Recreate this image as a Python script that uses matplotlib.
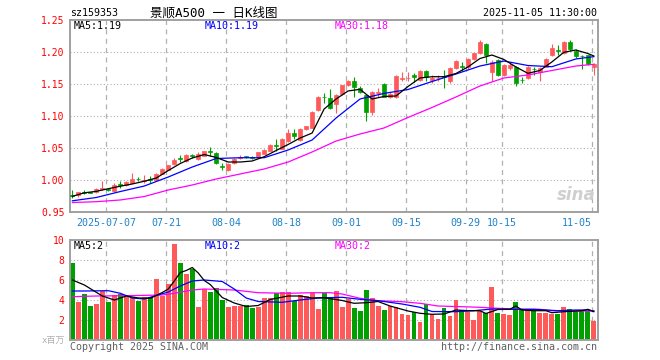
import matplotlib
matplotlib.use('Agg')
import matplotlib.pyplot as plt
import numpy as np

# daily candles, 2025-06-27 .. 2025-11-05 (88 trading days)
opens = [0.976, 0.976, 0.981, 0.981, 0.981, 0.986, 0.986, 0.983, 0.993, 0.992,
         0.996, 1.002, 0.999, 1.001, 1.000, 1.010, 1.016, 1.025, 1.034, 1.029,
         1.039, 1.033, 1.038, 1.045, 1.042, 1.022, 1.016, 1.026, 1.035, 1.037,
         1.036, 1.036, 1.041, 1.046, 1.054, 1.049, 1.061, 1.073, 1.062, 1.079,
         1.082, 1.109, 1.130, 1.128, 1.119, 1.134, 1.148, 1.154, 1.144, 1.133,
         1.107, 1.136, 1.150, 1.130, 1.129, 1.158, 1.159, 1.164, 1.156, 1.170,
         1.156, 1.159, 1.162, 1.154, 1.175, 1.178, 1.176, 1.189, 1.198, 1.212,
         1.168, 1.187, 1.164, 1.175, 1.176, 1.157, 1.159, 1.174, 1.169, 1.177,
         1.195, 1.203, 1.198, 1.216, 1.202, 1.194, 1.195, 1.177]
highs = [0.984, 0.982, 0.984, 0.982, 0.987, 0.999, 0.988, 0.996, 0.999, 0.998,
         1.011, 1.004, 1.008, 1.006, 1.011, 1.018, 1.024, 1.034, 1.039, 1.040,
         1.041, 1.043, 1.046, 1.052, 1.044, 1.027, 1.026, 1.034, 1.039, 1.038,
         1.038, 1.044, 1.048, 1.056, 1.064, 1.065, 1.079, 1.079, 1.082, 1.085,
         1.108, 1.131, 1.136, 1.142, 1.134, 1.149, 1.156, 1.161, 1.147, 1.134,
         1.139, 1.144, 1.152, 1.138, 1.164, 1.168, 1.168, 1.167, 1.172, 1.172,
         1.164, 1.164, 1.172, 1.176, 1.188, 1.184, 1.190, 1.199, 1.219, 1.214,
         1.187, 1.189, 1.182, 1.183, 1.178, 1.161, 1.178, 1.176, 1.177, 1.191,
         1.212, 1.211, 1.217, 1.219, 1.205, 1.195, 1.196, 1.183]
lows = [0.972, 0.974, 0.978, 0.979, 0.980, 0.984, 0.983, 0.982, 0.987, 0.991,
        0.995, 0.999, 0.995, 0.996, 0.999, 1.009, 1.015, 1.024, 1.028, 1.028,
        1.035, 1.032, 1.037, 1.038, 1.025, 1.016, 1.014, 1.025, 1.033, 1.034,
        1.033, 1.035, 1.040, 1.045, 1.046, 1.048, 1.060, 1.064, 1.061, 1.078,
        1.081, 1.108, 1.121, 1.111, 1.105, 1.133, 1.147, 1.130, 1.136, 1.092,
        1.102, 1.130, 1.129, 1.128, 1.128, 1.154, 1.154, 1.153, 1.155, 1.154,
        1.152, 1.154, 1.143, 1.152, 1.174, 1.170, 1.174, 1.188, 1.197, 1.183,
        1.154, 1.162, 1.163, 1.172, 1.147, 1.151, 1.158, 1.164, 1.155, 1.176,
        1.194, 1.195, 1.197, 1.202, 1.191, 1.174, 1.180, 1.164]
closes = [0.975, 0.981, 0.980, 0.980, 0.986, 0.987, 0.985, 0.992, 0.992, 0.997,
          1.002, 1.001, 1.000, 1.000, 1.009, 1.017, 1.023, 1.032, 1.033, 1.039,
          1.038, 1.041, 1.045, 1.044, 1.026, 1.021, 1.025, 1.033, 1.036, 1.036,
          1.035, 1.043, 1.047, 1.055, 1.053, 1.064, 1.073, 1.069, 1.080, 1.084,
          1.107, 1.130, 1.129, 1.112, 1.133, 1.148, 1.154, 1.145, 1.137, 1.107,
          1.138, 1.137, 1.130, 1.135, 1.163, 1.159, 1.160, 1.161, 1.170, 1.161,
          1.160, 1.160, 1.161, 1.175, 1.186, 1.177, 1.189, 1.198, 1.216, 1.195,
          1.185, 1.164, 1.180, 1.180, 1.152, 1.156, 1.176, 1.173, 1.175, 1.189,
          1.206, 1.202, 1.215, 1.204, 1.193, 1.193, 1.182, 1.182]
volumes = [7.73, 3.83, 4.6, 3.4, 3.6, 4.93, 3.83, 4.5, 4.6, 4.27,
           4.17, 3.9, 4.27, 4.27, 6.13, 4.4, 5.6, 9.6, 7.73, 6.6,
           7.07, 3.27, 5.07, 4.8, 5.23, 4.0, 3.27, 3.4, 3.4, 3.47,
           3.17, 3.27, 4.2, 4.2, 4.67, 4.77, 4.8, 3.87, 4.47, 4.4,
           4.67, 3.1, 4.67, 4.23, 4.9, 3.3, 4.07, 3.2, 2.9, 5.0,
           4.2, 3.4, 3.0, 3.4, 3.27, 2.6, 2.5, 2.83, 1.8, 3.6,
           2.6, 2.1, 3.2, 2.4, 4.0, 3.0, 2.83, 2.0, 2.87, 2.67,
           5.3, 2.7, 2.6, 2.5, 3.8, 3.0, 3.0, 2.93, 2.7, 2.7,
           2.6, 2.6, 3.3, 3.1, 2.9, 2.9, 2.9, 1.9]

# moving averages (day index, value)
ma5_idx = list(range(0, 88, 2)) + [87]
ma5 = [0.9745, 0.9800, 0.9823, 0.9864, 0.9903, 0.9938, 0.9981, 1.0031, 1.0148, 1.0258,
       1.0344, 1.0398, 1.0352, 1.0281, 1.0281, 1.0297, 1.0364, 1.0461, 1.0555, 1.0656,
       1.0734, 1.1109, 1.1266, 1.1391, 1.1417, 1.1266, 1.1305, 1.1313, 1.1461, 1.1594,
       1.1614, 1.1614, 1.1664, 1.1766, 1.1898, 1.1953, 1.1883, 1.1766, 1.1667, 1.1711,
       1.1844, 1.1995, 1.2031, 1.1977, 1.1938]
ma_idx = [0, 4, 8, 12, 16, 20, 24, 28, 32, 36, 40, 44, 48, 52, 56, 60, 64, 68, 72, 76, 80, 84, 87]
ma10 = [0.9675, 0.9727, 0.9820, 0.9906, 1.0047, 1.0203, 1.0336, 1.0348, 1.0348, 1.0469,
        1.0625, 1.0969, 1.1266, 1.1353, 1.1414, 1.1539, 1.1656, 1.1781, 1.1859, 1.1789,
        1.1770, 1.1891, 1.1927]
ma30 = [0.9648, 0.9661, 0.9688, 0.9742, 0.9844, 0.9922, 1.0016, 1.0094, 1.0172, 1.0281,
        1.0438, 1.0609, 1.0719, 1.0813, 1.0977, 1.1133, 1.1297, 1.1469, 1.1594, 1.1641,
        1.1711, 1.1781, 1.1808]

vma5_idx = [0, 2, 5, 7, 9, 11, 13, 15, 16, 17, 18, 19, 20, 21, 22, 23, 25, 27, 29, 31,
            33, 36, 38, 40, 42, 45, 47, 49, 51, 53, 56, 58, 60, 62, 64, 66, 68, 69, 71, 73,
            74, 75, 77, 79, 80, 82, 85, 86, 87]
vma5 = [6.0, 5.5, 4.4, 4.0, 4.4, 4.2, 4.17, 4.75, 5.1, 5.9, 6.75, 6.95, 7.25, 6.7, 5.95,
        5.55, 4.25, 3.7, 3.35, 3.45, 4.05, 4.4, 4.4, 4.2, 4.23, 3.95, 3.67, 3.73, 3.85, 3.4,
        2.9, 2.67, 2.57, 2.6, 3.0, 2.93, 2.93, 2.65, 3.05, 3.07, 3.4, 3.0, 2.93, 2.93, 2.73,
        2.83, 2.93, 3.07, 2.83]
vma10_idx = [0, 2, 6, 8, 10, 12, 14, 16, 18, 20, 22, 25, 27, 29, 31, 35, 38, 41, 45, 48,
             51, 55, 58, 60, 64, 67, 70, 74, 77, 79, 81, 84, 86, 87]
vma10 = [4.9, 4.9, 4.93, 4.67, 4.2, 4.1, 4.45, 4.8, 5.4, 5.9, 6.0, 5.85, 5.1, 4.2, 3.85,
         3.77, 4.0, 4.2, 4.27, 4.07, 3.93, 3.6, 3.27, 2.85, 2.83, 2.93, 3.1, 3.07, 3.07, 3.0,
         2.93, 3.0, 3.0, 2.9]
vma30_idx = [0, 4, 9, 15, 17, 20, 22, 27, 31, 36, 40, 43, 45, 48, 51, 55, 58, 61, 65, 68,
             71, 75, 78, 80, 84, 87]
vma30 = [4.33, 4.4, 4.43, 4.5, 4.67, 5.0, 5.1, 5.0, 4.73, 4.67, 4.73, 4.73, 4.6, 4.17, 3.93,
         3.83, 3.67, 3.4, 3.33, 3.27, 3.17, 3.07, 3.07, 2.93, 2.9, 2.9]

tick_idx = [6, 16, 26, 36, 46, 56, 66, 72, 87]
tick_labels = ['2025-07-07', '07-21', '08-04', '08-18', '09-01', '09-15', '09-29', '10-15', '11-05']

RED = '#ff5a5a'
GREEN = '#00a000'
GRID = '#b0b0b0'
MONO = 'DejaVu Sans Mono'

o = np.array(opens); h = np.array(highs); l = np.array(lows); c = np.array(closes)
x = np.arange(len(c))
cols = np.where(c >= o, RED, GREEN)

W, H = 660, 360
fig = plt.figure(figsize=(6.6, 3.6), dpi=100)
ax = fig.add_axes([70 / W, (H - 212) / H, 528 / W, 192 / H])
axv = fig.add_axes([70 / W, (H - 340) / H, 528 / W, 100 / H])

for a in (ax, axv):
    a.set_xlim(-0.4, 87.7)
    for s in a.spines.values():
        s.set_color('#a0a0a0')
        s.set_linewidth(1.4)
    a.tick_params(length=0, labelsize=7, labelcolor='red', pad=4)
    for t in tick_idx:
        a.axvline(t - 0.35, color=GRID, lw=0.9, ls=(0, (4, 3.5)), zorder=0)

# price panel
ax.set_ylim(0.95, 1.25)
yt = [0.95, 1.00, 1.05, 1.10, 1.15, 1.20, 1.25]
ax.set_yticks(yt)
ax.set_yticklabels(['%.2f' % v for v in yt], family=MONO)
for v in yt[1:-1]:
    ax.axhline(v, color=GRID, lw=0.8, ls=(0, (1, 2)), zorder=0)
ax.vlines(x, l, h, colors=cols, lw=0.8, zorder=2)
ax.bar(x, np.abs(c - o), bottom=np.minimum(o, c), width=0.7, color=cols,
       edgecolor=cols, linewidth=0.5, zorder=3)
ax.plot(ma_idx, ma30, color='#ff00ff', lw=0.9, zorder=4)
ax.plot(ma_idx, ma10, color='#0000ff', lw=0.9, zorder=4)
ax.plot(ma5_idx, ma5, color='black', lw=0.9, zorder=4)
ax.set_xticks([t - 0.35 for t in tick_idx])
ax.set_xticklabels(tick_labels, family=MONO, fontsize=7.2, color='#1e82c8')
ax.tick_params(axis='x', labelcolor='#1e82c8', pad=4)
ax.get_xticklabels()[-1].set_horizontalalignment('right')
ax.text(0.995, 0.04, 'sina', transform=ax.transAxes, ha='right', va='bottom',
        fontsize=12, fontweight='bold', style='italic', color='#cfcfcf', zorder=1)

# volume panel
axv.set_ylim(0, 10)
axv.set_yticks([2, 4, 6, 8, 10])
axv.set_yticklabels(['2', '4', '6', '8', '10'], family=MONO)
for v in [2, 4, 6, 8]:
    axv.axhline(v, color=GRID, lw=0.8, ls=(0, (1, 2)), zorder=0)
axv.set_xticks([])
axv.bar(x, volumes, width=0.82, color=cols, zorder=2)
axv.plot(vma30_idx, vma30, color='#ff00ff', lw=0.9, zorder=4)
axv.plot(vma10_idx, vma10, color='#0000ff', lw=0.9, zorder=4)
axv.plot(vma5_idx, vma5, color='black', lw=0.9, zorder=4)


def px(xp, yp, s, **kw):
    kw.setdefault('family', MONO)
    kw.setdefault('fontsize', 7.2)
    kw.setdefault('va', 'center')
    fig.text(xp / W, 1 - yp / H, s, **kw)


px(70, 13, 'sz159353')
px(150, 13, '景顺A500 一 日K线图', family=[MONO, 'Noto Sans CJK SC'], fontsize=9)
px(597, 13, '2025-11-05 11:30:00', ha='right')
px(74, 26, 'MA5:1.19', color='black')
px(205, 26, 'MA10:1.19', color='#0000ff')
px(335, 26, 'MA30:1.18', color='#ff00ff')
px(74, 246, 'MA5:2', color='black')
px(205, 246, 'MA10:2', color='#0000ff')
px(335, 246, 'MA30:2', color='#ff00ff')
px(65, 340, 'x百万', ha='right', color='#b0b0b0', family=[MONO, 'Noto Sans CJK SC'], fontsize=6.5)
px(70, 347, 'Copyright 2025 SINA.COM', color='#606060')
px(597, 347, 'http://finance.sina.com.cn', ha='right', color='#606060')

fig.savefig('out.png', dpi=100)
